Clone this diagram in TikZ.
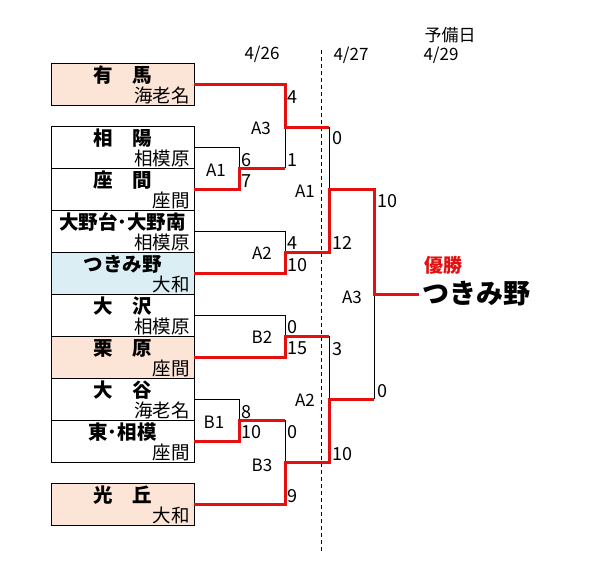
\documentclass[tikz,border=0pt]{standalone}
\usepackage{fontspec}
\setmainfont{Noto Sans CJK JP}
\definecolor{peach}{HTML}{FCE4D6}
\definecolor{pale}{HTML}{DAEEF3}
\definecolor{winred}{RGB}{228,16,16}
\begin{document}
\begin{tikzpicture}[x=1pt,y=-1pt,
  team/.style={draw,line width=0.9pt,minimum width=143pt,minimum height=42pt,inner sep=0pt},
  tname/.style={inner sep=0pt,font=\bfseries\fontsize{19.5}{19.5}\selectfont},
  tcity/.style={anchor=base east,inner sep=0pt,font=\fontsize{18.5}{18.5}\selectfont},
  sc/.style={anchor=west,inner sep=0pt,font=\fontsize{18}{18}\selectfont},
  mlab/.style={inner sep=0pt,font=\fontsize{17}{17}\selectfont},
  day/.style={inner sep=0pt,font=\fontsize{17}{17}\selectfont},
  thinl/.style={line width=0.9pt},
  win/.style={winred,line width=3pt}]
\useasboundingbox (0,0) rectangle (589,568);

% dates
\node[day] (d26) at (262,54) {4/26};
\node[day] (d27) at (351,55) {4/27};
\node[day] (d29) at (441,55) {4/29};
\node[day] (spare) at (450,35) {予備日};
\draw[thinl,dash pattern=on 4pt off 3pt] (321,50) -- (321,553);

% teams
\node[team,fill=peach] (arima) at (122.5,84) {};
\node[tname] (arima-n) at (122.5,75) {有　馬};
\node[tcity] (arima-c) at (190,102.5) {海老名};

\node[team] (soyo) at (122.5,147) {};
\node[tname] (soyo-n) at (122.5,138) {相　陽};
\node[tcity] (soyo-c) at (190,165.5) {相模原};

\node[team] (zama) at (122.5,189) {};
\node[tname] (zama-n) at (122.5,180) {座　間};
\node[tcity] (zama-c) at (190,207.5) {座間};

\node[team] (oono) at (122.5,231) {};
\node[tname] (oono-n) at (122.5,222) {大野台･大野南};
\node[tcity] (oono-c) at (190,249.5) {相模原};

\node[team,fill=pale] (tsuki) at (122.5,273) {};
\node[tname] (tsuki-n) at (122.5,264) {つきみ野};
\node[tcity] (tsuki-c) at (190,291.5) {大和};

\node[team] (ozawa) at (122.5,315) {};
\node[tname] (ozawa-n) at (122.5,306) {大　沢};
\node[tcity] (ozawa-c) at (190,333.5) {相模原};

\node[team,fill=peach] (kuri) at (122.5,357) {};
\node[tname] (kuri-n) at (122.5,348) {栗　原};
\node[tcity] (kuri-c) at (190,375.5) {座間};

\node[team] (ootani) at (122.5,399) {};
\node[tname] (ootani-n) at (122.5,390) {大　谷};
\node[tcity] (ootani-c) at (190,417.5) {海老名};

\node[team] (higa) at (122.5,441) {};
\node[tname] (higa-n) at (122.5,432) {東･相模};
\node[tcity] (higa-c) at (190,459.5) {座間};

\node[team,fill=peach] (hika) at (122.5,504) {};
\node[tname] (hika-n) at (122.5,495) {光　丘};
\node[tcity] (hika-c) at (190,522.5) {大和};

% match points
\coordinate (a1) at (239,168);
\coordinate (a3) at (285,127);
\coordinate (a2) at (285,252);
\coordinate (b2) at (285,336);
\coordinate (b1) at (239,420);
\coordinate (b3) at (285,462);
\coordinate (sa1) at (329,189);
\coordinate (sa2) at (329,399);
\coordinate (fin) at (374,294);

% champion
\node[inner sep=0pt,winred,font=\bfseries\fontsize{19}{19}\selectfont] (yusho) at (443,265) {優勝};
\node[anchor=west,inner sep=3pt,font=\bfseries\fontsize{27}{27}\selectfont] (champ) at (419,294) {つきみ野};

% brackets
\draw[thinl] (soyo.east) -| (a1);
\draw[thinl] (a1 -| a3) -- (a3);
\draw[thinl] (a3 -| sa1) -- (sa1);
\draw[thinl] (oono.east) -| (a2);
\draw[thinl] (ozawa.east) -| (b2);
\draw[thinl] (b2 -| sa2) -- (sa2);
\draw[thinl] (ootani.east) -| (b1);
\draw[thinl] (b1 -| b3) -- (b3);
\draw[thinl] (sa2 -| fin) -- (fin);

\draw[win] (zama.east) -| (a1) -- (a1 -| a3);
\draw[win] (arima.east) -| (a3) -- (a3 -| sa1);
\draw[win] (tsuki.east) -| (a2) -- (a2 -| sa1) -- (sa1) -- (sa1 -| fin) -- (fin) -- (champ.west);
\draw[win] (kuri.east) -| (b2) -- (b2 -| sa2);
\draw[win] (higa.east) -| (b1) -- (b1 -| b3);
\draw[win] (hika.east) -| (b3) -- (b3 -| sa2) -- (sa2) -- (sa2 -| fin);

% match names
\node[mlab] (m-a1) at (216,170) {A1};
\node[mlab] (m-a3) at (261,128) {A3};
\node[mlab] (m-a2) at (262,253) {A2};
\node[mlab] (m-b2) at (262,337) {B2};
\node[mlab] (m-b1) at (214,422) {B1};
\node[mlab] (m-b3) at (262,465) {B3};
\node[mlab] (m-sa1) at (305,191) {A1};
\node[mlab] (m-sa2) at (305,400) {A2};
\node[mlab] (m-fin) at (352,297) {A3};

% scores
\node[sc] (s1) at (241,160) {6};
\node[sc] (s2) at (241,181) {7};
\node[sc] (s3) at (287,97) {4};
\node[sc] (s4) at (287,160) {1};
\node[sc] (s5) at (287,243) {4};
\node[sc] (s6) at (287,265) {10};
\node[sc] (s7) at (287,327) {0};
\node[sc] (s8) at (287,348) {15};
\node[sc] (s9) at (241,412) {8};
\node[sc] (s10) at (241,432) {10};
\node[sc] (s11) at (287,432) {0};
\node[sc] (s12) at (287,496) {9};
\node[sc] (s13) at (332,138) {0};
\node[sc] (s14) at (332,243) {12};
\node[sc] (s15) at (332,349) {3};
\node[sc] (s16) at (332,454) {10};
\node[sc] (s17) at (377,201) {10};
\node[sc] (s18) at (377,391) {0};
\end{tikzpicture}
\end{document}
